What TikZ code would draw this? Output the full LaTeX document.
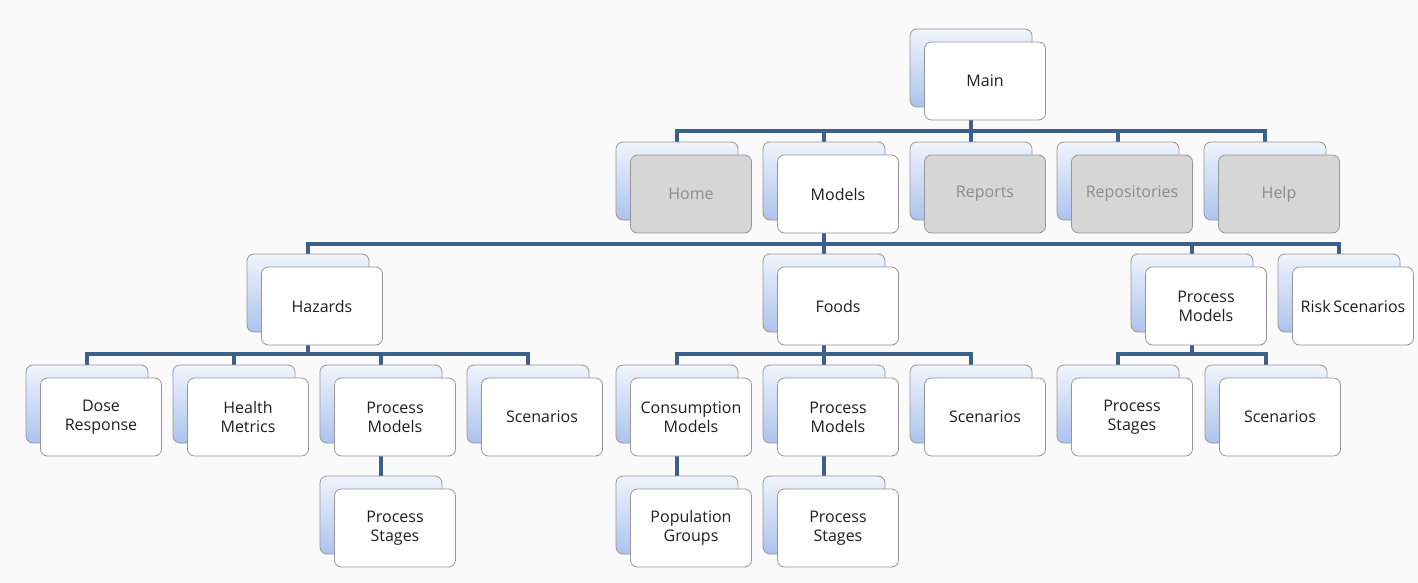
\documentclass[tikz,border=0pt]{standalone}
\usepackage{fontspec}
\setmainfont{Open Sans}
\usepackage{tikz}
\usetikzlibrary{
  calc,       % 坐标计算
  positioning % 节点相对定位
}
\pgfdeclarelayer{background}
\pgfsetlayers{background,main}
\definecolor{linkblue}{RGB}{60,96,140}
\definecolor{backtop}{RGB}{240,244,252}
\definecolor{backbot}{RGB}{172,194,238}
\definecolor{boxedge}{RGB}{150,150,150}
\definecolor{offfill}{RGB}{214,214,214}
\definecolor{offtext}{RGB}{140,140,140}
\definecolor{paper}{RGB}{250,250,250}
\tikzset{
  back box/.style={
    rectangle,
    rounded corners=7pt,
    draw=boxedge,
    line width=0.8pt,
    top color=backtop,
    bottom color=backbot,
    minimum width=122pt,
    minimum height=78pt,
    inner sep=0pt
  },
  front box/.style={
    rectangle,
    rounded corners=7pt,
    draw=boxedge,
    line width=0.8pt,
    fill=white,
    text=black!88,
    minimum width=121pt,
    minimum height=78pt,
    inner sep=2pt,
    align=center,
    font=\fontsize{16}{19}\selectfont
  },
  off box/.style={
    front box,
    fill=offfill,
    text=offtext
  },
  link/.style={
    draw=linkblue,
    line width=3.2pt
  }
}
% 一个菜单项 = 后面的蓝色底框 + 前面的白框
\newcommand{\duobox}[4][front box]{%
  \node[back box] (#2-b) at (#3) {};
  \node[#1] (#2) at ([shift={(14,13)}]#2-b.center) {#4};
}

\begin{document}
\begin{tikzpicture}[x=1pt, y=-1pt]
  % 1. 顶层
  \duobox{main}{971,68}{Main}

  % 2. 第二层菜单
  \duobox[off box]{home}{677,181}{Home}
  \duobox{models}{824,181}{Models}
  \duobox[off box]{reports}{971,181}{Reports}
  \duobox[off box]{repos}{1118,181}{Repositories}
  \duobox[off box]{help}{1265,181}{Help}

  % 3. Models 下的分类
  \duobox{hazards}{308,293}{Hazards}
  \duobox{foods}{824,293}{Foods}
  \duobox{pmodels}{1192,293}{Process\\Models}
  \duobox{risk}{1339,293}{Risk\,Scenarios}

  % 4. 第四层
  \duobox{dose}{87,404}{Dose\\Response}
  \duobox{health}{234,404}{Health\\Metrics}
  \duobox{hzpm}{381,404}{Process\\Models}
  \duobox{hzsc}{528,404}{Scenarios}
  \duobox{cons}{677,404}{Consumption\\Models}
  \duobox{fdpm}{824,404}{Process\\Models}
  \duobox{fdsc}{971,404}{Scenarios}
  \duobox{pmps}{1118,404}{Process\\Stages}
  \duobox{pmsc}{1266,404}{Scenarios}

  % 5. 第五层
  \duobox{hzps}{381,515}{Process\\Stages}
  \duobox{pop}{677,515}{Population\\Groups}
  \duobox{fdps}{824,515}{Process\\Stages}

  % 6. 底色与连线放在底层，被方框盖住
  \begin{pgfonlayer}{background}
    \fill[paper] (0,0) rectangle (1418,583);
    \useasboundingbox (0,0) rectangle (1418,583);

    \coordinate (bus1) at (971,131);
    \coordinate (bus2) at (824,244);
    \coordinate (bus3) at (308,354);
    \coordinate (bus4) at (824,354);
    \coordinate (bus5) at (1192,354);

    \draw[link] (main-b.center) -- (bus1);
    \foreach \c in {home,models,reports,repos,help}
      \draw[link] (bus1) -| (\c-b.center);

    \draw[link] (models-b.center) -- (bus2);
    \foreach \c in {hazards,foods,pmodels,risk}
      \draw[link] (bus2) -| (\c-b.center);

    \draw[link] (hazards-b.center) -- (bus3);
    \foreach \c in {dose,health,hzpm,hzsc}
      \draw[link] (bus3) -| (\c-b.center);

    \draw[link] (foods-b.center) -- (bus4);
    \foreach \c in {cons,fdpm,fdsc}
      \draw[link] (bus4) -| (\c-b.center);

    \draw[link] (pmodels-b.center) -- (bus5);
    \foreach \c in {pmps,pmsc}
      \draw[link] (bus5) -| (\c-b.center);

    \draw[link] (hzpm-b.center) -- (hzps-b.center);
    \draw[link] (cons-b.center) -- (pop-b.center);
    \draw[link] (fdpm-b.center) -- (fdps-b.center);
  \end{pgfonlayer}
\end{tikzpicture}
\end{document}
